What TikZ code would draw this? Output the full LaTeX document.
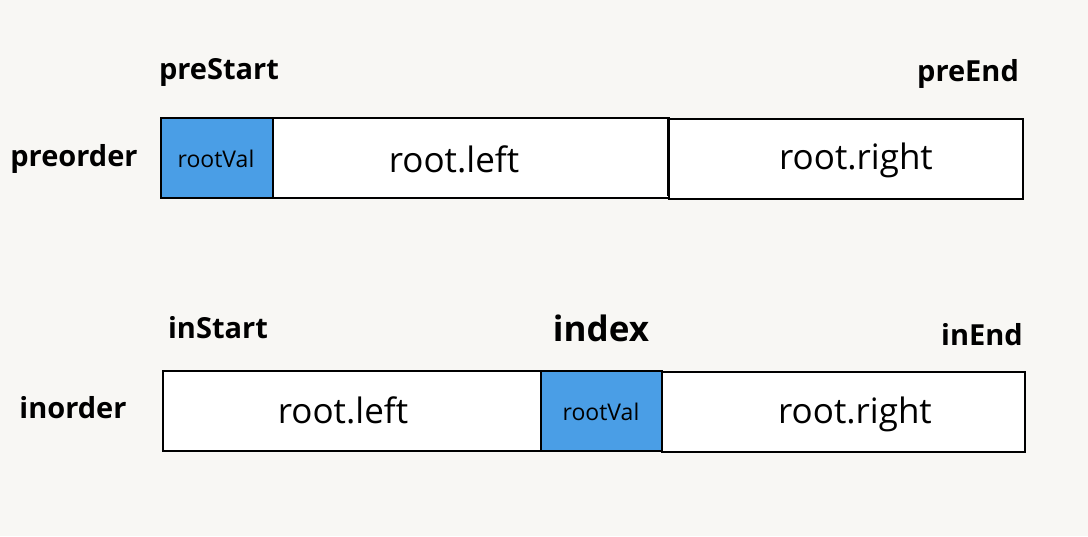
\documentclass[tikz,border=0pt]{standalone}
\usepackage{fontspec}
\setmainfont{Open Sans}
\definecolor{bg}{HTML}{F8F7F4}
\definecolor{cellblue}{HTML}{4A9EE6}
\begin{document}
\begin{tikzpicture}[x=1pt,y=-1pt,
  cell/.style={draw=black,line width=1.8pt,fill=white,minimum height=80pt,inner sep=0pt,anchor=north west},
  bluecell/.style={cell,fill=cellblue},
  celltext/.style={font=\fontsize{35}{40}\selectfont},
  valtext/.style={font=\fontsize{23}{28}\selectfont},
  lbl/.style={font=\fontsize{29}{34}\selectfont\bfseries}]
\fill[bg] (0,0) rectangle (1088,536);
\useasboundingbox (0,0) rectangle (1088,536);
% top array
\node[cell,minimum width=396pt] (pl) at (272,117) {};
\node[celltext] (plt) at (454,159) {root.left};
\node[cell,minimum width=354pt] (pr) at (668,118) {};
\node[celltext] (prt) at (856,160) {root.right};
\node[bluecell,minimum width=112pt] (pv) at (160,117) {};
\node[valtext] (pvt) at (216,159) {rootVal};
\draw[line width=1.8pt] (pr.north west) -- ([yshift=4pt]pr.south west);
\node[lbl] (pre) at (74,159) {preorder};
\node[lbl] (ps) at (219,72) {preStart};
\node[lbl] (pe) at (968,74) {preEnd};
% bottom array
\node[cell,minimum width=378pt] (il) at (162,370) {};
\node[celltext] (ilt) at (343,410) {root.left};
\node[cell,minimum width=363pt] (ir) at (661,371) {};
\node[celltext] (irt) at (855,414) {root.right};
\node[bluecell,minimum width=121pt] (iv) at (540,370) {};
\node[valtext] (ivt) at (601,412) {rootVal};
\node[lbl] (ino) at (73,408) {inorder};
\node[lbl] (is) at (218,328) {inStart};
\node[lbl,font=\fontsize{35}{40}\selectfont\bfseries] (ix) at (601,328) {index};
\node[lbl] (ie) at (982,335) {inEnd};
\end{tikzpicture}
\end{document}
